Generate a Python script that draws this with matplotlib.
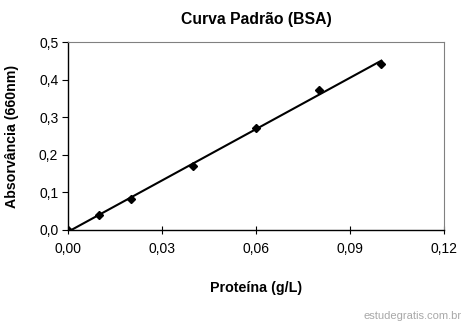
import numpy as np
import matplotlib.pyplot as plt
from matplotlib.ticker import FuncFormatter

plt.rcParams['font.family'] = ['Liberation Sans', 'DejaVu Sans']

# BSA standard curve readings
proteina = [0.0, 0.01, 0.02, 0.04, 0.06, 0.08, 0.10]
absorvancia = [0.0, 0.040, 0.082, 0.170, 0.271, 0.373, 0.442]
x_ticks = [0.0, 0.03, 0.06, 0.09, 0.12]
y_ticks = [0.0, 0.1, 0.2, 0.3, 0.4, 0.5]

fig = plt.figure(figsize=(4.63, 3.26), dpi=100)
ax = fig.add_axes([0.1469, 0.2945, 0.8121, 0.5765])

# linear trendline over the measured range
coef = np.polyfit(proteina, absorvancia, 1)
xl = np.array([min(proteina), max(proteina)])
ax.plot(xl, np.polyval(coef, xl), color='black', lw=1.5, zorder=2)
ax.plot(proteina, absorvancia, 'D', color='black', ms=3.6, zorder=3)

ax.set_xlim(0, 0.12)
ax.set_ylim(0, 0.5)
ax.set_xticks(x_ticks)
ax.set_yticks(y_ticks)
ax.xaxis.set_major_formatter(FuncFormatter(lambda v, p: f'{v:.2f}'.replace('.', ',')))
ax.yaxis.set_major_formatter(FuncFormatter(lambda v, p: f'{v:.1f}'.replace('.', ',')))
ax.tick_params(axis='x', direction='inout', length=6, labelsize=10, pad=6)
ax.tick_params(axis='y', direction='out', length=4, labelsize=10, pad=3)

for side in ['top', 'right']:
    ax.spines[side].set_color('#808080')
    ax.spines[side].set_linewidth(0.8)
for side in ['left', 'bottom']:
    ax.spines[side].set_color('black')
    ax.spines[side].set_linewidth(1.0)

ax.set_title('Curva Padrão (BSA)', fontsize=11.3, fontweight='bold', pad=13)
ax.set_xlabel('Proteína (g/L)', fontsize=10.3, fontweight='bold', labelpad=18)
ax.set_ylabel('Absorvância (660nm)', fontsize=10.2, fontweight='bold', labelpad=14)

fig.text(0.998, 0.015, 'estudegratis.com.br', ha='right', va='bottom',
         fontsize=8, color='#a8a8a8')

fig.savefig('out.png', dpi=100)
